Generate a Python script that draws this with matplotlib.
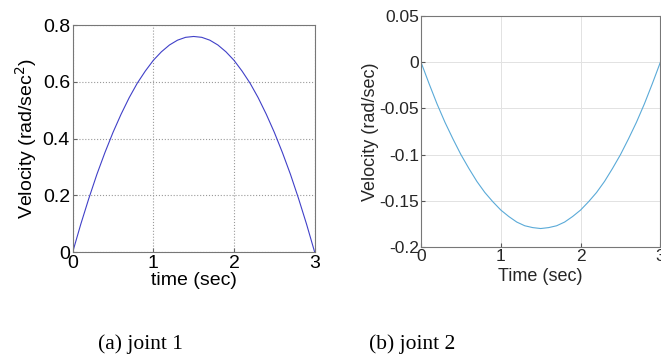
import matplotlib
matplotlib.use("Agg")
import matplotlib.pyplot as plt

# time samples (sec)
t = [0.0, 0.1, 0.2, 0.3, 0.4, 0.5, 0.6, 0.7, 0.8, 0.9, 1.0,
     1.1, 1.2, 1.3, 1.4, 1.5, 1.6, 1.7, 1.8, 1.9, 2.0,
     2.1, 2.2, 2.3, 2.4, 2.5, 2.6, 2.7, 2.8, 2.9, 3.0]

# joint 1 velocity
v1 = [0.0, 0.098, 0.189, 0.274, 0.351, 0.422, 0.486, 0.544, 0.595, 0.638, 0.676,
      0.706, 0.730, 0.747, 0.757, 0.760, 0.757, 0.747, 0.730, 0.706, 0.676,
      0.638, 0.595, 0.544, 0.486, 0.422, 0.351, 0.274, 0.189, 0.098, 0.0]

# joint 2 velocity
v2 = [0.0, -0.023, -0.045, -0.065, -0.083, -0.100, -0.115, -0.129, -0.141, -0.151, -0.160,
      -0.167, -0.173, -0.177, -0.179, -0.180, -0.179, -0.177, -0.173, -0.167, -0.160,
      -0.151, -0.141, -0.129, -0.115, -0.100, -0.083, -0.065, -0.045, -0.023, 0.0]

xticks = [0, 1, 2, 3]
yticks1 = [0, 0.2, 0.4, 0.6, 0.8]
yticks2 = [-0.2, -0.15, -0.1, -0.05, 0, 0.05]

plt.rcParams['font.family'] = ['Liberation Sans', 'DejaVu Sans']

fig = plt.figure(figsize=(6.61, 3.59), dpi=100)

# (a) old-style MATLAB plot
ax1 = fig.add_axes([0.110, 0.298, 0.366, 0.632])
ax1.plot(t, v1, color='#4040c8', lw=0.8)
ax1.set_xlim(0, 3)
ax1.set_ylim(0, 0.8)
ax1.set_xticks(xticks)
ax1.set_yticks(yticks1)
ax1.set_yticklabels(['0', '0.2', '0.4', '0.6', '0.8'])
ax1.grid(True, linestyle=':', color='#9a9a9a', lw=0.8)
ax1.tick_params(direction='in', labelsize=14, pad=2, length=3, color='#666666')
for s in ax1.spines.values():
    s.set_color('#777777')
    s.set_linewidth(0.8)
ax1.set_xlabel('time (sec)', fontsize=14, labelpad=0)
ax1.set_ylabel('Velocity (rad/sec$^2$)', fontsize=14, labelpad=3)

# (b) newer MATLAB plot
ax2 = fig.add_axes([0.637, 0.312, 0.362, 0.643])
ax2.plot(t, v2, color='#5aaad8', lw=0.8)
ax2.set_xlim(0, 3)
ax2.set_ylim(-0.2, 0.05)
ax2.set_xticks(xticks)
ax2.set_yticks(yticks2)
ax2.set_yticklabels(['-0.2', '-0.15', '-0.1', '-0.05', '0', '0.05'])
ax2.grid(True, linestyle='-', color='#e2e2e2', lw=0.7)
ax2.set_axisbelow(True)
ax2.tick_params(direction='in', labelsize=12.5, pad=1.5, length=3,
                color='#555555', labelcolor='#262626')
for s in ax2.spines.values():
    s.set_color('#777777')
    s.set_linewidth(0.8)
ax2.set_xlabel('Time (sec)', fontsize=13, color='#262626', labelpad=3)
ax2.set_ylabel('Velocity (rad/sec)', fontsize=13, color='#262626', labelpad=0)

fig.text(0.212, 0.042, '(a) joint 1', fontsize=15.5, family='Liberation Serif',
         ha='center', va='center')
fig.text(0.623, 0.042, '(b) joint 2', fontsize=15.5, family='Liberation Serif',
         ha='center', va='center')

fig.savefig('out.png', dpi=100)
